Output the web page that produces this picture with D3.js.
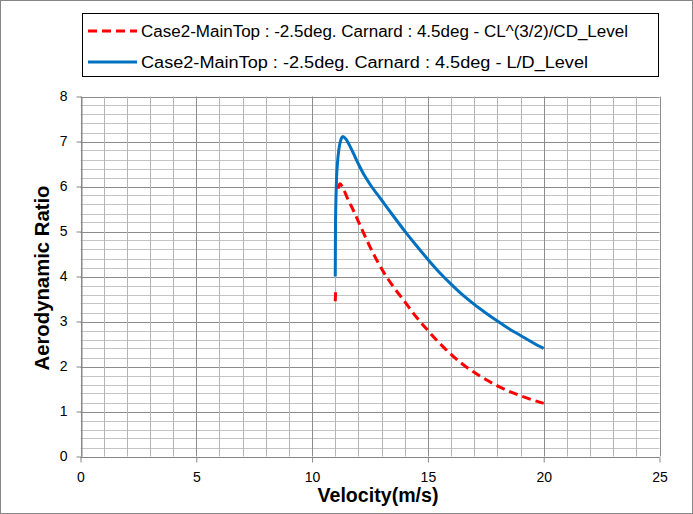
<!DOCTYPE html>
<html><head><meta charset="utf-8">
<script src="https://cdn.jsdelivr.net/npm/d3@7"></script>
<style>body{margin:0;background:#fff}svg{display:block}</style>
</head><body>
<script>
const seriesNames = [
  "Case2-MainTop : -2.5deg. Carnard : 4.5deg - CL^(3/2)/CD_Level",
  "Case2-MainTop : -2.5deg. Carnard : 4.5deg - L/D_Level"
];
// CL^(3/2)/CD (null = gap in the plotted line)
const redX = [11.0, 11.02, null, 11.12, 11.2, 11.35, 11.5, 11.8, 12.0, 12.5, 13.0, 13.5, 14.0, 14.5, 15.0, 15.5, 16.0, 16.5, 17.0, 17.5, 18.0, 18.5, 19.0, 19.5, 20.0];
const redY = [3.45, 3.75, null, 5.95, 6.06, 5.95, 5.77, 5.45, 5.22, 4.66, 4.17, 3.78, 3.44, 3.1, 2.8, 2.52, 2.27, 2.05, 1.87, 1.71, 1.57, 1.45, 1.35, 1.26, 1.18];
// L/D
const blueX = [11.0, 11.01, 11.05, 11.1, 11.15, 11.22, 11.33, 11.45, 11.6, 11.8, 12.0, 12.2, 12.5, 13.0, 13.5, 14.0, 14.5, 15.0, 15.5, 16.0, 16.5, 17.0, 17.5, 18.0, 18.5, 19.0, 19.5, 20.0];
const blueY = [4.0, 5.1, 6.1, 6.55, 6.8, 7.0, 7.11, 7.06, 6.93, 6.72, 6.5, 6.3, 6.05, 5.70, 5.35, 5.01, 4.69, 4.38, 4.09, 3.83, 3.59, 3.38, 3.19, 3.01, 2.84, 2.69, 2.54, 2.4];
const xTicks = [0, 5, 10, 15, 20, 25];
const yTicks = [0, 1, 2, 3, 4, 5, 6, 7, 8];

const W = 693, H = 514;
const svg = d3.select("body").append("svg").attr("width", W).attr("height", H);
const font = "Liberation Sans, Arial, sans-serif";

svg.append("rect").attr("x", 0.5).attr("y", 0.5).attr("width", W - 1).attr("height", H - 1)
  .attr("fill", "#fff").attr("stroke", "#868686");

const x = d3.scaleLinear().domain([0, 25]).range([80.5, 659.5]);
const y = d3.scaleLinear().domain([0, 8]).range([456.5, 96.5]);

const g = svg.append("g");
const minorY = d3.range(0, 8.001, 0.2);
g.selectAll("line.hy").data(minorY).join("line")
  .attr("x1", x(0)).attr("x2", x(25))
  .attr("y1", d => Math.round(y(d)) + 0.5).attr("y2", d => Math.round(y(d)) + 0.5)
  .attr("stroke", d => Math.abs(d - Math.round(d)) < 1e-6 ? "#8c8c8c" : "#c4c4c4").attr("stroke-width", 1);
const minorX = d3.range(0, 25.001, 1);
g.selectAll("line.vx").data(minorX).join("line")
  .attr("y1", y(0)).attr("y2", y(8))
  .attr("x1", d => Math.round(x(d)) + 0.5).attr("x2", d => Math.round(x(d)) + 0.5)
  .attr("stroke", d => d % 5 === 0 ? "#8c8c8c" : "#b4b4b4").attr("stroke-width", 1);

const xAxis = d3.axisBottom(x).tickValues(xTicks).tickSize(5).tickSizeOuter(0).tickPadding(10);
const yAxis = d3.axisLeft(y).tickValues(yTicks).tickSize(5).tickSizeOuter(0).tickPadding(9);
const xa = svg.append("g").attr("transform", `translate(0,${Math.round(y(0)) + 0.5})`).call(xAxis);
const ya = svg.append("g").attr("transform", `translate(${Math.round(x(0)) + 0.5},0)`).call(yAxis);
[xa, ya].forEach(a => {
  a.selectAll("path,line").attr("stroke", "#868686");
  a.selectAll("text").attr("font-family", font).attr("font-size", 14).attr("fill", "#000");
});
xa.selectAll("path").attr("d", `M${x(0)},0H${x(25)}`);

const line = d3.line().defined(d => d[0] !== null && d[1] !== null)
  .x(d => x(d[0])).y(d => y(d[1])).curve(d3.curveMonotoneX);
svg.append("path").datum(blueX.map((v, i) => [v, blueY[i]]))
  .attr("d", line).attr("fill", "none").attr("stroke", "#0070C0").attr("stroke-width", 3)
  .attr("stroke-linejoin", "round");
svg.append("path").datum(redX.map((v, i) => [v, redY[i]]))
  .attr("d", line).attr("fill", "none").attr("stroke", "#FF0000").attr("stroke-width", 3)
  .attr("stroke-dasharray", "9,5");

svg.append("text").attr("x", 378).attr("y", 502).attr("text-anchor", "middle")
  .attr("font-family", font).attr("font-weight", "bold").attr("font-size", 20)
  .attr("textLength", 121).attr("lengthAdjust", "spacingAndGlyphs").text("Velocity(m/s)");
svg.append("text").attr("transform", "translate(49,278) rotate(-90)").attr("text-anchor", "middle")
  .attr("font-family", font).attr("font-weight", "bold").attr("font-size", 20)
  .attr("textLength", 185).attr("lengthAdjust", "spacingAndGlyphs").text("Aerodynamic Ratio");

const lg = svg.append("g");
lg.append("rect").attr("x", 82.5).attr("y", 13.5).attr("width", 576).attr("height", 63)
  .attr("fill", "#fff").attr("stroke", "#000");
const items = [{ c: "#FF0000", dash: "9,5", yy: 31, w: 487 }, { c: "#0070C0", dash: null, yy: 62, w: 447 }];
items.forEach((it, i) => {
  lg.append("line").attr("x1", 88).attr("x2", 137).attr("y1", it.yy).attr("y2", it.yy)
    .attr("stroke", it.c).attr("stroke-width", 3).attr("stroke-dasharray", it.dash);
  lg.append("text").attr("x", 141).attr("y", it.yy + 6).attr("font-family", font).attr("font-size", 16)
    .attr("fill", "#000").attr("textLength", it.w).attr("lengthAdjust", "spacingAndGlyphs").text(seriesNames[i]);
});
</script>
</body></html>
